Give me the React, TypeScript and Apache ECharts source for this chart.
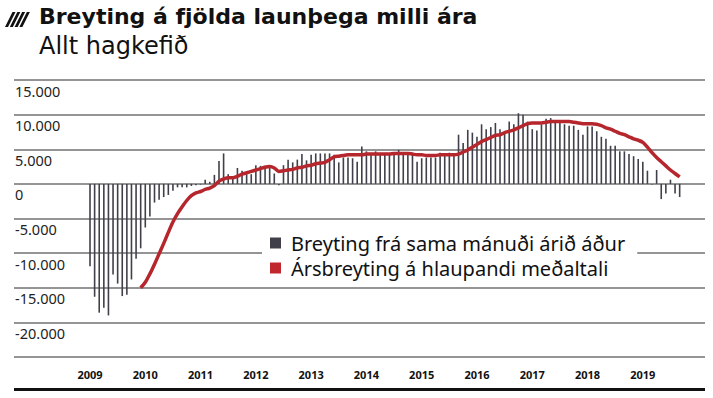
import React, { useEffect, useRef } from "react";
import * as echarts from "echarts";

const TITLE = "Breyting á fjölda launþega milli ára";
const SUBTITLE = "Allt hagkefið";
const BAR_NAME = "Breyting frá sama mánuði árið áður";
const LINE_NAME = "Ársbreyting á hlaupandi meðaltali";

const START_YEAR = 2009;
const LEAD_PAD = 16;
const TRAIL_PAD = 5;

// Monthly, Jan 2009 – Sep 2019
const barValues: number[] = [
  -11900, -16300, -18600, -17900, -19000, -13100, -14400, -16200, -16000, -13800, -10800, -9300,
  -6300, -4700, -2700, -2300, -1900, -1600, -1000, -500, -500, -500, -300, -200,
  -100, 600, 300, 1300, 3300, 4400, 1400, 1100, 2300, 1900, 1400, 1400,
  2700, 2600, 2600, 2700, 1500, -200, 2700, 3500, 3100, 3500, 4300, 3400,
  4200, 4400, 4400, 4400, 4400, 4200, 3100, 3800, 3800, 3700, 3200, 5400,
  4700, 4400, 4700, 4200, 4200, 4200, 4200, 4900, 4400, 4400, 4300, 3200,
  3700, 3800, 3800, 3800, 4500, 4200, 4500, 4400, 7100, 5900, 7800, 7400,
  6800, 8600, 7900, 8200, 8800, 7900, 7300, 9000, 8600, 10200, 10000, 9000,
  7900, 7700, 8600, 9400, 9500, 9000, 8800, 8600, 8400, 8400, 7800, 7100,
  8300, 8300, 7600, 6800, 6500, 5500, 5500, 4700, 4700, 4300, 4000, 3600,
  3200, 1900, -100, 2000, -2200, -1400, 600, -1400, -1900,
];

// Running 12-month average change, from Dec 2009
const lineValues: (number | null)[] = [
  null, null, null, null, null, null, null, null, null, null, null, -15000,
  -14200, -13000, -11600, -10100, -8600, -7000, -5500, -4300, -3300, -2400, -1700, -1300,
  -1100, -800, -600, -250, 400, 700, 900, 900, 1100, 1400, 1600, 1800,
  2000, 2200, 2400, 2500, 2300, 1800, 1900, 2000, 2100, 2300, 2400, 2600,
  2700, 2900, 3000, 3100, 3500, 3900, 4000, 4100, 4200, 4200, 4200, 4200,
  4300, 4300, 4300, 4300, 4300, 4300, 4400, 4400, 4400, 4400, 4300, 4200,
  4200, 4100, 4100, 4100, 4200, 4200, 4200, 4200, 4300, 4600, 4900, 5300,
  5700, 6100, 6400, 6700, 7000, 7100, 7400, 7600, 7800, 8100, 8400, 8700,
  8800, 8800, 8800, 8900, 9000, 9000, 9000, 9000, 9000, 8900, 8800, 8700,
  8700, 8700, 8600, 8400, 8100, 7900, 7600, 7300, 7100, 6800, 6500, 6300,
  6000, 5300, 4500, 3800, 3200, 2600, 2000, 1500, 1000,
];

const yTicks = { min: -25000, max: 15000, interval: 5000 };

export default function App() {
  const ref = useRef<HTMLDivElement>(null);
  useEffect(() => {
    if (!ref.current) return;
    const chart = echarts.init(ref.current, undefined, { renderer: "svg" });

    const months = barValues.map((_, i) => {
      const y = START_YEAR + Math.floor(i / 12);
      const m = (i % 12) + 1;
      return `${y}-${m < 10 ? "0" + m : m}`;
    });
    const lead = Array.from({ length: LEAD_PAD }, (_, i) => `pa${i}`);
    const trail = Array.from({ length: TRAIL_PAD }, (_, i) => `pb${i}`);
    const categories = [...lead, ...months, ...trail];
    const padL = lead.map(() => null);
    const padT = trail.map(() => null);

    const font = "'Noto Sans', sans-serif";
    const titleFont = "'DejaVu Sans', sans-serif";

    const fmt = (v: number) => {
      if (v === yTicks.min) return "";
      if (v === 0) return "0";
      const a = Math.abs(v);
      const s = Math.floor(a / 1000) + "." + String(a % 1000).padStart(3, "0");
      return (v < 0 ? "-" : "") + s;
    };

    const stripes = [0, 1, 2, 3].map((k) => {
      const x0 = 5 + 4.8 * k;
      return {
        type: "polygon",
        shape: {
          points: [
            [x0, 27],
            [x0 + 3, 27],
            [x0 + 3 + 7.5, 12],
            [x0 + 7.5, 12],
          ],
        },
        style: { fill: "#111" },
      };
    });

    chart.setOption({
      animation: false,
      backgroundColor: "#fff",
      textStyle: { fontFamily: font },
      grid: { left: 14, right: 8, top: 80, bottom: 41, containLabel: false },
      legend: {
        orient: "vertical",
        left: 262,
        top: 227,
        padding: [5, 12, 5, 8],
        itemGap: 3,
        itemWidth: 11,
        itemHeight: 11,
        backgroundColor: "#fff",
        textStyle: {
          fontFamily: font,
          fontSize: 20,
          color: "#111",
          lineHeight: 22,
          padding: [0, 0, 0, 5],
        },
        data: [
          { name: BAR_NAME, icon: "rect", itemStyle: { color: "#40404a", borderWidth: 0 } },
          { name: LINE_NAME, icon: "rect", itemStyle: { color: "#c0282e", borderWidth: 0 } },
        ],
      },
      xAxis: {
        type: "category",
        data: categories,
        axisLine: { show: false },
        axisTick: { show: false },
        splitLine: { show: false },
        axisLabel: {
          interval: (_i: number, v: string) => /^\d{4}-01$/.test(v),
          formatter: (v: string) => (/^\d{4}-01$/.test(v) ? v.slice(0, 4) : ""),
          margin: 12,
          fontFamily: font,
          fontWeight: "bold",
          fontSize: 11,
          color: "#111",
        },
      },
      yAxis: {
        type: "value",
        min: yTicks.min,
        max: yTicks.max,
        interval: yTicks.interval,
        axisLine: { show: false },
        axisTick: { show: false },
        splitLine: { show: true, lineStyle: { color: "#707070", width: 1.5 } },
        axisLabel: {
          inside: true,
          margin: 1,
          verticalAlign: "top",
          padding: [3, 0, 0, 0],
          fontFamily: font,
          fontSize: 14.5,
          color: "#222",
          formatter: fmt,
        },
      },
      series: [
        {
          name: BAR_NAME,
          type: "bar",
          data: [...padL, ...barValues, ...padT],
          barWidth: 1.6,
          itemStyle: { color: "#40404a" },
          z: 2,
        },
        {
          name: LINE_NAME,
          type: "line",
          data: [...padL, ...lineValues, ...padT],
          smooth: 0.3,
          showSymbol: false,
          symbol: "none",
          lineStyle: { color: "#b5262d", width: 3.5 },
          itemStyle: { color: "#c0282e" },
          z: 3,
        },
      ],
      graphic: [
        ...stripes,
        {
          type: "text",
          left: 39,
          top: 5,
          style: {
            text: TITLE,
            fontFamily: titleFont,
            fontWeight: "bold",
            fontSize: 22,
            fill: "#111",
          },
        },
        {
          type: "text",
          left: 39,
          top: 34,
          style: {
            text: SUBTITLE,
            fontFamily: titleFont,
            fontSize: 24,
            fill: "#111",
          },
        },
        {
          type: "line",
          shape: { x1: 14, y1: 389.5, x2: 705, y2: 389.5 },
          style: { stroke: "#111", lineWidth: 3 },
        },
      ],
    });

    return () => chart.dispose();
  }, []);

  return <div ref={ref} style={{ width: 713, height: 398, position: "absolute", left: 0, top: 0 }} />;
}
